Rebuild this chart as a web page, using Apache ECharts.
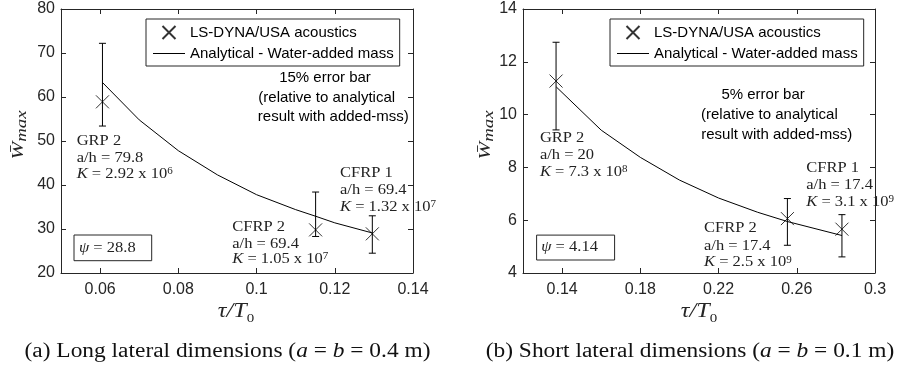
<!DOCTYPE html>
<html><head><meta charset="utf-8">
<script src="https://cdn.jsdelivr.net/npm/echarts@6/dist/echarts.min.js"></script>
<style>html,body{margin:0;padding:0;background:#fff}#c{width:897px;height:374px}</style>
</head><body><div id="c"></div>
<script>
// ---------------- data ----------------
const leftXTicks = [0.06, 0.08, 0.1, 0.12, 0.14];
const rightXTicks = [0.14, 0.18, 0.22, 0.26, 0.3];
const leftLineX = [0.0606, 0.07, 0.08, 0.09, 0.10, 0.11, 0.1151, 0.12, 0.1296];
const leftLineY = [63.3, 54.8, 47.8, 42.3, 37.8, 34.4, 32.9, 31.4, 29.1];
const leftPtsX = [0.0606, 0.1151, 0.1296];
const leftPtsY = [58.9, 29.8, 28.9];
const leftErrLow = [53.4, 28.3, 24.5];
const leftErrHigh = [72.2, 38.4, 33.0];
const rightLineX = [0.137, 0.16, 0.18, 0.20, 0.22, 0.24, 0.2552, 0.2831];
const rightLineY = [11.05, 9.41, 8.38, 7.52, 6.84, 6.30, 5.95, 5.42];
const rightPtsX = [0.1369, 0.2552, 0.2831];
const rightPtsY = [11.27, 6.06, 5.66];
const rightErrLow = [9.42, 5.05, 4.61];
const rightErrHigh = [12.74, 6.82, 6.21];
const scatterName = 'LS-DYNA/USA acoustics';
const lineName = 'Analytical - Water-added mass';

// ---------------- helpers ----------------
const sans = '"Liberation Sans", Arial, Helvetica, sans-serif';
const serif = '"Liberation Serif", "DejaVu Serif", serif';
const axisCol = '#262626';
const zip = (a, b) => a.map((v, i) => [v, b[i]]);
const zip3 = (a, b, c) => a.map((v, i) => [v, b[i], c[i]]);

function xAx(grid, min, max, ticks, pos, show) {
  return {
    type: 'value', gridIndex: grid, min: min, max: max, position: pos,
    axisLine: {show: true, onZero: false, lineStyle: {color: axisCol, width: 1}},
    axisTick: {show: true, inside: true, length: 5, customValues: ticks, lineStyle: {color: axisCol}},
    axisLabel: {show: show, customValues: ticks, margin: 9, color: axisCol, fontFamily: sans, fontSize: 16,
      formatter: v => String(+(+v).toFixed(2))},
    splitLine: {show: false}
  };
}
function yAx(grid, min, max, interval, pos, show) {
  return {
    type: 'value', gridIndex: grid, min: min, max: max, interval: interval, position: pos,
    axisLine: {show: true, onZero: false, lineStyle: {color: axisCol, width: 1}},
    axisTick: {show: true, inside: true, length: 5, lineStyle: {color: axisCol}},
    axisLabel: {show: show, margin: 6, color: axisCol, fontFamily: sans, fontSize: 16, showMinLabel: true, showMaxLabel: true},
    splitLine: {show: false}
  };
}
function errRender(params, api) {
  const x = api.value(0);
  const lo = api.coord([x, api.value(1)]);
  const hi = api.coord([x, api.value(2)]);
  const hw = 3.5;
  const st = {stroke: '#000', lineWidth: 1};
  return {type: 'group', children: [
    {type: 'line', shape: {x1: lo[0], y1: lo[1], x2: hi[0], y2: hi[1]}, style: st},
    {type: 'line', shape: {x1: lo[0] - hw, y1: lo[1], x2: lo[0] + hw, y2: lo[1]}, style: st},
    {type: 'line', shape: {x1: hi[0] - hw, y1: hi[1], x2: hi[0] + hw, y2: hi[1]}, style: st}
  ]};
}
const xSymbol = 'path://M0,0L10,10M10,0L0,10';

const R = {
  n: {fontFamily: serif, fontSize: 15, fill: '#222', verticalAlign: 'bottom'},
  i: {fontFamily: serif, fontSize: 15, fontStyle: 'italic', fill: '#222', verticalAlign: 'bottom'},
  e: {fontFamily: serif, fontSize: 10, fill: '#222', verticalAlign: 'top'},
  cn: {fontFamily: serif, fontSize: 20, fill: '#111', verticalAlign: 'bottom'},
  ci: {fontFamily: serif, fontSize: 20, fontStyle: 'italic', fill: '#111', verticalAlign: 'bottom'},
  w: {fontFamily: serif, fontSize: 17, fontStyle: 'italic', fill: '#262626', verticalAlign: 'bottom', padding: [0, 0, 3, 0]},
  s: {fontFamily: serif, fontSize: 15, fontStyle: 'italic', fill: '#262626', verticalAlign: 'bottom'},
  t: {fontFamily: serif, fontSize: 21, fontStyle: 'italic', fill: '#262626', verticalAlign: 'bottom', padding: [0, 0, 3, 0]},
  z: {fontFamily: serif, fontSize: 13, fill: '#262626', verticalAlign: 'bottom'}
};
function T(x, y, text, align, extra) {
  return Object.assign({type: 'text', x: x, y: y, z: 100,
    style: {text: text, rich: R, textAlign: align || 'left', textVerticalAlign: 'middle'}}, extra || {});
}
function S(x, y, text) {
  return {type: 'text', x: x, y: y, z: 100,
    style: {text: text, fontFamily: sans, fontSize: 15, fill: '#000', textAlign: 'center', textVerticalAlign: 'middle'}};
}
function block(x, y0, y1, y2, name, ah, kMant, kExp) {
  const sc = {scaleX: 1.1};
  return [
    T(x, y0, '{n|' + name + '}', 'left', sc),
    T(x, y1, '{n|a/h = ' + ah + '}', 'left', sc),
    T(x, y2, '{i|K}{n| = ' + kMant + ' x 10}{e|' + kExp + '}', 'left', sc)
  ];
}
function psiBox(x, y, w, h, tx, val) {
  return [
    {type: 'rect', z: 90, shape: {x: x, y: y, width: w, height: h}, style: {fill: '#fff', stroke: '#262626', lineWidth: 1}},
    T(tx, y + h / 2, '{i|ψ}{n| = ' + val + '}', 'left', {scaleX: 1.1})
  ];
}

const graphics = [].concat(
  // axis names
  T(20, 135, '{w|W\u0304}{s|max}', 'center', {rotation: Math.PI / 2, scaleX: 1.25}),
  T(487, 135, '{w|W\u0304}{s|max}', 'center', {rotation: Math.PI / 2, scaleX: 1.25}),
  T(236, 313, '{t|τ/T}{z|0}', 'center', {scaleX: 1.15}),
  T(699, 313, '{t|τ/T}{z|0}', 'center', {scaleX: 1.15}),
  // left annotations
  block(76.7, 140.7, 157.7, 174.3, 'GRP 2', '79.8', '2.92', '6'),
  block(232.3, 226.7, 244, 259, 'CFRP 2', '69.4', '1.05', '7'),
  block(340, 172.7, 190, 206.7, 'CFRP 1', '69.4', '1.32', '7'),
  psiBox(74, 235, 77.7, 25.7, 79, '28.8'),
  S(325, 78.3, '15% error bar'),
  S(326.7, 98.3, '(relative to analytical'),
  S(333.3, 117.3, 'result with added-mss)'),
  // right annotations
  block(539.9, 138, 155.4, 172, 'GRP 2', '20', '7.3', '8'),
  block(806.3, 168.4, 185.3, 201.6, 'CFRP 1', '17.4', '3.1', '9'),
  block(704, 228.5, 246.4, 262.4, 'CFRP 2', '17.4', '2.5', '9'),
  psiBox(536.6, 235.1, 78, 24.9, 541.2, '4.14'),
  S(763.1, 95.3, '5% error bar'),
  S(769.4, 114.6, '(relative to analytical'),
  S(776.7, 134.5, 'result with added-mss)'),
  // captions
  T(227.5, 352, '{cn|(a) Long lateral dimensions (}{ci|a}{cn| = }{ci|b}{cn| = 0.4 m)}', 'center', {scaleX: 1.17}),
  T(690, 352, '{cn|(b) Short lateral dimensions (}{ci|a}{cn| = }{ci|b}{cn| = 0.1 m)}', 'center', {scaleX: 1.17})
);

function legendCfg(left) {
  return {
    left: left, top: 19, orient: 'vertical',
    data: [{name: scatterName}, {name: lineName, icon: 'path://M0,0L32,0L32,1L0,1Z'}],
    itemWidth: 32, itemHeight: 13, itemGap: 6, padding: [6, 6, 5, 7],
    borderColor: '#262626', borderWidth: 1, backgroundColor: '#fff',
    textStyle: {fontFamily: sans, fontSize: 15, color: '#000', lineHeight: 15},
    selectedMode: false
  };
}

const option = {
  animation: false,
  backgroundColor: '#fff',
  grid: [
    {left: 61, top: 9, width: 352, height: 264, outerBoundsMode: 'none', containLabel: false},
    {left: 523, top: 9, width: 352, height: 264, outerBoundsMode: 'none', containLabel: false}
  ],
  xAxis: [
    xAx(0, 0.05, 0.14, leftXTicks, 'bottom', true),
    xAx(0, 0.05, 0.14, leftXTicks, 'top', false),
    xAx(1, 0.12, 0.30, rightXTicks, 'bottom', true),
    xAx(1, 0.12, 0.30, rightXTicks, 'top', false)
  ],
  yAxis: [
    yAx(0, 20, 80, 10, 'left', true),
    yAx(0, 20, 80, 10, 'right', false),
    yAx(1, 4, 14, 2, 'left', true),
    yAx(1, 4, 14, 2, 'right', false)
  ],
  legend: [legendCfg(146), legendCfg(610)],
  series: [
    {type: 'line', name: lineName, xAxisIndex: 0, yAxisIndex: 0, data: zip(leftLineX, leftLineY),
      symbol: 'none', lineStyle: {color: '#000', width: 1}, itemStyle: {color: '#000'}},
    {type: 'custom', xAxisIndex: 0, yAxisIndex: 0, renderItem: errRender,
      data: zip3(leftPtsX, leftErrLow, leftErrHigh), encode: {x: 0, y: [1, 2]}},
    {type: 'scatter', name: scatterName, xAxisIndex: 0, yAxisIndex: 0, data: zip(leftPtsX, leftPtsY),
      symbol: xSymbol, symbolSize: 13, itemStyle: {color: 'rgba(0,0,0,0)', borderColor: '#000', borderWidth: 1}},
    {type: 'line', name: lineName, xAxisIndex: 2, yAxisIndex: 2, data: zip(rightLineX, rightLineY),
      symbol: 'none', lineStyle: {color: '#000', width: 1}, itemStyle: {color: '#000'}},
    {type: 'custom', xAxisIndex: 2, yAxisIndex: 2, renderItem: errRender,
      data: zip3(rightPtsX, rightErrLow, rightErrHigh), encode: {x: 0, y: [1, 2]}},
    {type: 'scatter', name: scatterName, xAxisIndex: 2, yAxisIndex: 2, data: zip(rightPtsX, rightPtsY),
      symbol: xSymbol, symbolSize: 13, itemStyle: {color: 'rgba(0,0,0,0)', borderColor: '#000', borderWidth: 1}}
  ],
  graphic: graphics
};
const chart = echarts.init(document.getElementById('c'), null, {renderer: 'canvas'});
chart.setOption(option);
</script>
</body></html>
